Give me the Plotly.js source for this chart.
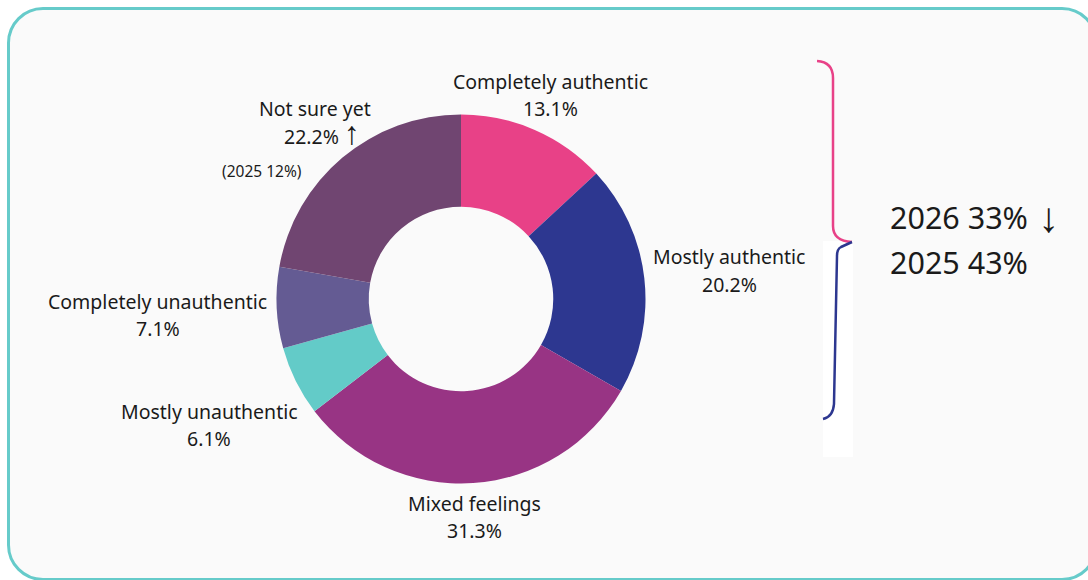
<!DOCTYPE html>
<html>
<head>
<meta charset="utf-8">
<script src="https://cdn.plot.ly/plotly-3.0.1.min.js"></script>
<style>
  html, body { margin: 0; padding: 0; background: #ffffff; overflow: hidden; }
  #frame {
    position: absolute; left: 7px; top: 7px; width: 1091px; height: 574px;
    box-sizing: border-box; border: 3.5px solid #66cbca; border-radius: 36px;
    background: #fafafa;
  }
  #chart { position: absolute; left: 0; top: 0; width: 1088px; height: 580px; }
</style>
</head>
<body>
<div id="frame"></div>
<div id="chart"></div>
<script>
// ---- data ----
const categories = ["Completely authentic", "Mostly authentic", "Mixed feelings",
                    "Mostly unauthentic", "Completely unauthentic", "Not sure yet"];
const values = [13.1, 20.2, 31.3, 6.1, 7.1, 22.2];
const notSurePrevYear = "2025";
const notSurePrevValue = 12;
const years = ["2026", "2025"];
const authenticShare = [33, 43];

// ---- styles ----
const colors = ["#e84187", "#2d3790", "#983484", "#63cbc8", "#645b93", "#704571"];
const W = 1088, H = 580;
const px = x => x / W;
const py = y => 1 - y / H;
const textColor = "#1a1a1a";
const font = "Noto Sans, Open Sans, sans-serif";
const arrowFont = "Liberation Sans";

// pie geometry (pixels)
const cx = 461, cy = 299, r = 184.5;

const trace = {
  type: "pie",
  labels: categories,
  values: values,
  sort: false,
  direction: "clockwise",
  rotation: 0,
  hole: 0.5,
  textinfo: "none",
  hoverinfo: "label+percent",
  marker: { colors: colors, line: { width: 0 } },
  domain: { x: [px(cx - r), px(cx + r)], y: [py(cy + r), py(cy - r)] },
  showlegend: false
};

// label line centres (pixels): [x name, y name, x value, y value]
const labelPos = [
  [550.5, 81, 550.5, 108],
  [729, 256, 729, 284],
  [474.5, 503, 474.5, 530],
  [209, 411, 209, 438],
  [157.5, 301, 157.5, 328],
  [314.5, 109, 322, 133]
];

function ann(x, y, text, size, anchor, fam) {
  return {
    xref: "paper", yref: "paper", x: px(x), y: py(y),
    xanchor: anchor || "center", yanchor: "middle",
    text: text, showarrow: false, align: "center",
    font: { family: fam || font, size: size, color: textColor }
  };
}

const annotations = [];
categories.forEach((c, i) => {
  annotations.push(ann(labelPos[i][0], labelPos[i][1], c, 19.5));
  let v = values[i].toFixed(1) + "%";
  if (i === 5) v += " <span style=\"font-family:" + arrowFont + ";font-size:32px\">↑</span>";
  annotations.push(ann(labelPos[i][2], labelPos[i][3], v, 19.5));
});
annotations.push(ann(1036, 218, "↓", 42, "left", arrowFont));

annotations.push(ann(262, 171, "(" + notSurePrevYear + " " + notSurePrevValue + "%)", 15.5));
annotations.push(ann(888, 217, years[0] + " " + authenticShare[0] + "%", 30.5, "left"));
annotations.push(ann(888, 262, years[1] + " " + authenticShare[1] + "%", 30.5, "left"));

function pathOf(pts) {
  return pts.map(p => p[0] + " " + px(p[1]).toFixed(5) + "," + py(p[2]).toFixed(5)).join(" ");
}

const shapes = [
  { type: "rect", xref: "paper", yref: "paper",
    x0: px(823), x1: px(853), y0: py(457), y1: py(241),
    fillcolor: "#ffffff", line: { width: 0 }, layer: "below" },
  { type: "path", xref: "paper", yref: "paper",
    path: pathOf([["M", 817, 61], ["Q", 833, 62], ["", 833, 78], ["L", 833, 226],
                  ["Q", 833, 241], ["", 852, 242]]),
    line: { color: "#e84187", width: 2.5 } },
  { type: "path", xref: "paper", yref: "paper",
    path: pathOf([["M", 852, 242], ["L", 841, 247], ["Q", 837, 249], ["", 837, 256],
                  ["L", 834, 404], ["Q", 833, 417], ["", 823, 419]]),
    line: { color: "#2d3790", width: 2.5 } }
];

const layout = {
  width: W, height: H,
  margin: { l: 0, r: 0, t: 0, b: 0 },
  paper_bgcolor: "rgba(0,0,0,0)",
  plot_bgcolor: "rgba(0,0,0,0)",
  annotations: annotations,
  shapes: shapes,
  font: { family: font }
};

Plotly.newPlot("chart", [trace], layout, { displayModeBar: false, staticPlot: true });
</script>
</body>
</html>
